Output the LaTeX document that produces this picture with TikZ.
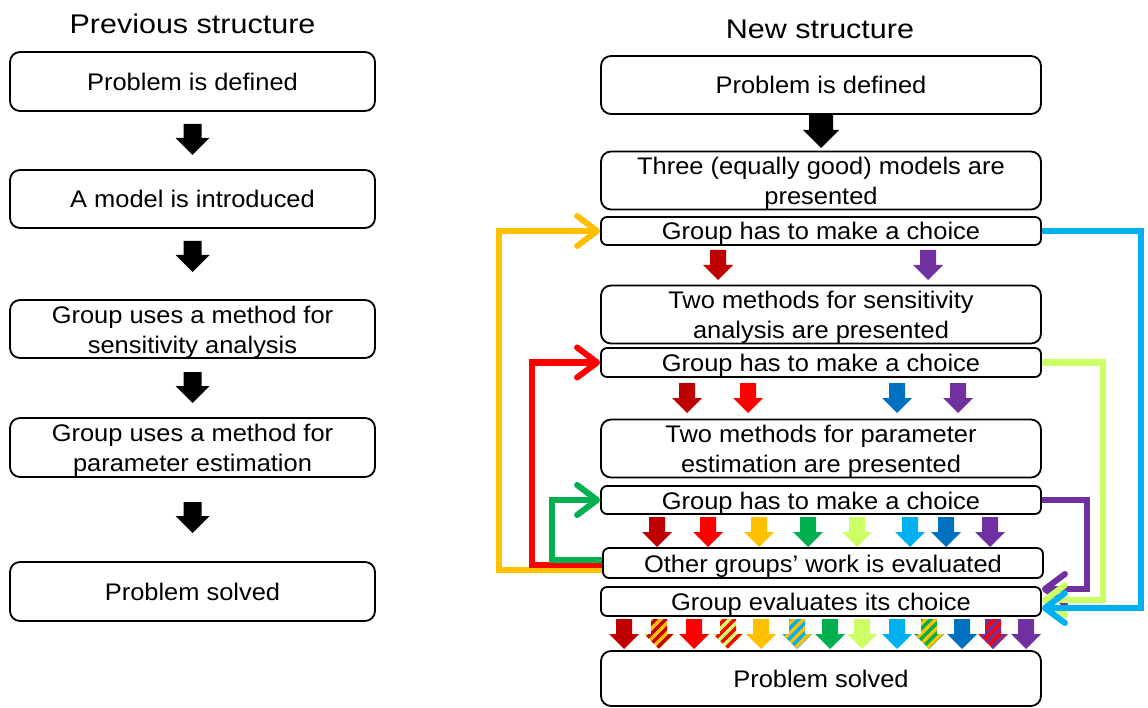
\documentclass[tikz,border=0pt]{standalone}
\usepackage{fontspec}
\setmainfont{Liberation Sans}
\newfontfamily\boxfam{Liberation Sans}[FakeStretch=1.06]
\newfontfamily\ttlfam{Liberation Sans}[FakeStretch=1.13]
\usetikzlibrary{arrows.meta}
\definecolor{cDarkRed}{HTML}{C00000}
\definecolor{cRed}{HTML}{FF0000}
\definecolor{cOrange}{HTML}{FFC000}
\definecolor{cGreen}{HTML}{00B050}
\definecolor{cLime}{HTML}{CCFF66}
\definecolor{cSky}{HTML}{00B0F0}
\definecolor{cBlue}{HTML}{0070C0}
\definecolor{cPurple}{HTML}{7030A0}
\newcommand\myboxfont{\boxfam\fontsize{24pt}{30pt}\selectfont}
\newcommand\mytitlefont{\ttlfam\fontsize{27pt}{32pt}\selectfont}
\tikzset{
  box/.style={draw=black, line width=1.8pt, rounded corners=10pt, align=center,
    inner sep=0pt, font=\myboxfont},
  one/.style={text height=23pt, text depth=5pt},
  two/.style={text height=53pt, text depth=5pt},
  lbox/.style={box, minimum width=365pt},
  rbox/.style={box, minimum width=440pt},
  thinbox/.style={rbox, rounded corners=6pt},
  ttl/.style={font=\mytitlefont, inner sep=0pt},
  conn/.style={line width=6pt, -{Straight Barb[length=20pt,width=30pt,round]}},
  pics/carrow/.style={code={
    \fill[fill=#1] (-8,0) -- (8,0) -- (8,15) -- (15,15) -- (0,30) -- (-15,15) -- (-8,15) -- cycle;}},
  pics/sarrow/.style 2 args={code={
    \begin{scope}
      \clip (-8,0) -- (8,0) -- (8,15) -- (15,15) -- (0,30) -- (-15,15) -- (-8,15) -- cycle;
      \fill[fill=#1] (-16,-1) rectangle (16,31);
      \foreach \k in {-56,-46,...,24} {\draw[draw=#2, line width=3.5pt] (\k,33) -- (\k+36,-3);}
    \end{scope}}},
  pics/blkarrow/.style n args={4}{code={
    \fill[black] (-#1,0) -- (#1,0) -- (#1,#3) -- (#2,#3) -- (0,#4) -- (-#2,#3) -- (-#1,#3) -- cycle;}},
}
\begin{document}
\begin{tikzpicture}[x=1pt, y=-1pt]
\useasboundingbox (0,0) rectangle (1148,708);

% ---------- titles ----------
\node[ttl] (t1) at (192.5,24) {Previous structure};
\node[ttl] (t2) at (820,29) {New structure};

% ---------- previous structure ----------
\node[lbox, one, minimum height=59pt] (L1) at (192.5,81.5) {Problem is defined};
\node[lbox, one, minimum height=58pt] (L2) at (192.5,199) {A model is introduced};
\node[lbox, two, minimum height=58pt] (L3) at (192.5,329) {Group uses a method for\\sensitivity analysis};
\node[lbox, two, minimum height=59pt] (L4) at (192.5,447.5) {Group uses a method for\\parameter estimation};
\node[lbox, one, minimum height=59pt] (L5) at (192.5,591.5) {Problem solved};

\pic (la1) at (192.5,124) {blkarrow={9}{17}{14}{31}};
\pic (la2) at (192.5,241) {blkarrow={9}{17}{14}{31}};
\pic (la3) at (192.5,372) {blkarrow={9}{17}{14}{31}};
\pic (la4) at (192.5,502) {blkarrow={9}{17}{14}{31}};

% ---------- new structure ----------
\node[rbox, one, minimum height=58pt] (R1) at (821,85) {Problem is defined};
\node[rbox, two, minimum height=57pt] (R2) at (821,180.5) {Three (equally good) models are\\presented};
\node[thinbox, one, minimum height=28pt] (R3) at (821,231) {Group has to make a choice};
\node[rbox, two, minimum height=57pt] (R4) at (821,314.5) {Two methods for sensitivity\\analysis are presented};
\node[thinbox, one, minimum height=29pt] (R5) at (821,362.5) {Group has to make a choice};
\node[rbox, two, minimum height=57pt] (R6) at (821,448.5) {Two methods for parameter\\estimation are presented};
\node[thinbox, one, minimum height=28pt] (R7) at (821,500) {Group has to make a choice};
\node[thinbox, one, minimum height=30pt] (R8) at (823,563) {Other groups’ work is evaluated};
\node[thinbox, one, minimum height=29pt] (R9) at (821,601.5) {Group evaluates its choice};
\node[rbox, one, minimum height=55pt] (R10) at (821,678.5) {Problem solved};

\pic (ra0) at (821,115) {blkarrow={12}{18}{15}{33}};

% after R3
\pic (ra1) at (718,250) {carrow=cDarkRed};
\pic (ra2) at (928,250) {carrow=cPurple};
% after R5
\pic (rb1) at (687,383) {carrow=cDarkRed};
\pic (rb2) at (748,383) {carrow=cRed};
\pic (rb3) at (897,383) {carrow=cBlue};
\pic (rb4) at (958,383) {carrow=cPurple};
% after R7
\pic (rc1) at (657,517) {carrow=cDarkRed};
\pic (rc2) at (708,517) {carrow=cRed};
\pic (rc3) at (759,517) {carrow=cOrange};
\pic (rc4) at (808,517) {carrow=cGreen};
\pic (rc5) at (857,517) {carrow=cLime};
\pic (rc6) at (910,517) {carrow=cSky};
\pic (rc7) at (946,517) {carrow=cBlue};
\pic (rc8) at (990,517) {carrow=cPurple};
% after R9
\pic (rd1) at (624,619) {carrow=cDarkRed};
\pic (rd2) at (659,619) {sarrow={cOrange}{cDarkRed}};
\pic (rd3) at (694,619) {carrow=cRed};
\pic (rd4) at (728,619) {sarrow={cLime}{cRed}};
\pic (rd5) at (761,619) {carrow=cOrange};
\pic (rd6) at (797,619) {sarrow={cSky}{cOrange}};
\pic (rd7) at (830,619) {carrow=cGreen};
\pic (rd8) at (862,619) {carrow=cLime};
\pic (rd9) at (897,619) {carrow=cSky};
\pic (rd10) at (929,619) {sarrow={cGreen}{cOrange}};
\pic (rd11) at (962,619) {carrow=cBlue};
\pic (rd12) at (993,619) {sarrow={cRed}{cPurple}};
\pic (rd13) at (1026,619) {carrow=cPurple};

% ---------- feedback connectors (left) ----------
\draw[conn, cOrange] ([yshift=-7pt]R8.west) -- ++(-103,0) |- (R3.west);
\draw[conn, cRed] ([yshift=-2pt]R8.west) -- ++(-70,0) |- (R5.west);
\draw[conn, cGreen] ([yshift=3pt]R8.west) -- ++(-50,0) |- (R7.west);

% ---------- connectors (right) ----------
\draw[conn, cPurple] (R7.east) -- ++(45,0) |- ([yshift=12.5pt]R9.east);
\draw[conn, cLime] (R5.east) -- ++(61,0) |- ([yshift=1.5pt]R9.east);
\draw[conn, cSky] (R3.east) -- ++(99,0) |- ([yshift=-6.5pt]R9.east);
\end{tikzpicture}
\end{document}
